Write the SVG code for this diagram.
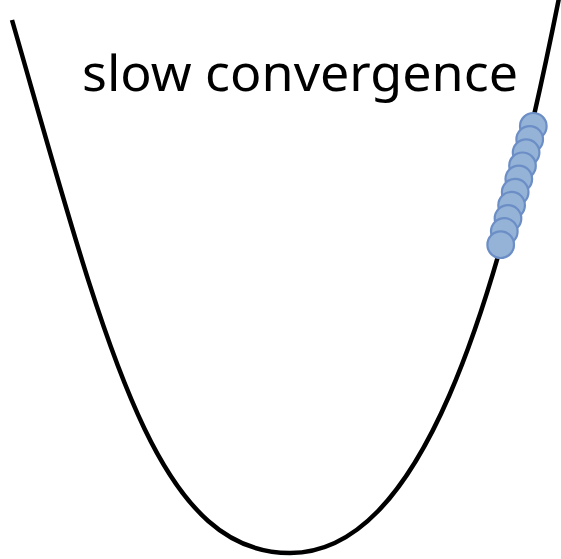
<svg xmlns="http://www.w3.org/2000/svg" width="561" height="559" viewBox="0 0 561 559">
<style>
.curve{fill:none;stroke:#000;stroke-width:4.5;stroke-linecap:butt}
.ball{fill:#95B3D7;stroke:#6C8EC6;stroke-width:2.2}
.lbl{font-family:"Noto Sans","Open Sans","Liberation Sans",sans-serif;font-size:50px;fill:#000}
</style>
<rect width="561" height="559" fill="#fff"/>
<g id="curve">
<path class="curve" d="M12,20 C107,350 155,553 290,553 C420,553 495,318 559,-2"/>
</g>
<g id="label">
<text class="lbl" x="82" y="91" textLength="436" lengthAdjust="spacingAndGlyphs">slow convergence</text>
</g>
<g id="balls">
<circle class="ball" cx="533.3" cy="126.3" r="13.3"/>
<circle class="ball" cx="529.7" cy="139.5" r="13.3"/>
<circle class="ball" cx="526.1" cy="152.6" r="13.3"/>
<circle class="ball" cx="522.5" cy="165.8" r="13.3"/>
<circle class="ball" cx="518.8" cy="178.9" r="13.3"/>
<circle class="ball" cx="515.2" cy="192.1" r="13.3"/>
<circle class="ball" cx="511.6" cy="205.2" r="13.3"/>
<circle class="ball" cx="508" cy="218.4" r="13.3"/>
<circle class="ball" cx="504.3" cy="231.5" r="13.3"/>
<circle class="ball" cx="500.7" cy="244.7" r="13.3"/>
</g>
</svg>
